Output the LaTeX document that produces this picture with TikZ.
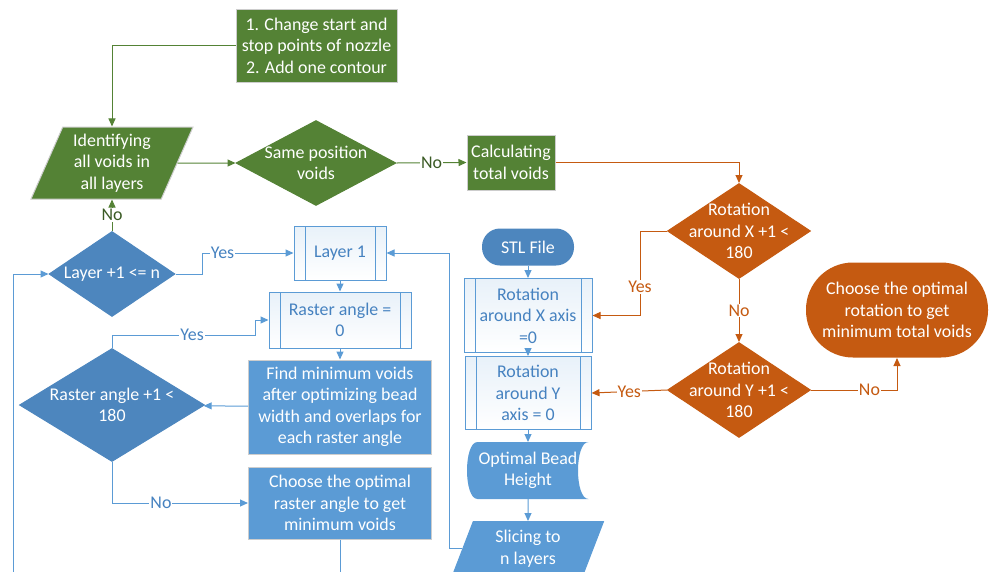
\documentclass[tikz,border=0pt]{standalone}
\usepackage{fontspec}
\setmainfont{Carlito}
\usetikzlibrary{shapes.geometric,positioning,arrows.meta,backgrounds}
\tikzset{>={Triangle[length=8pt,width=7pt]}}

\definecolor{vgreen}{RGB}{84,130,53}
\definecolor{vorange}{RGB}{197,90,17}
\definecolor{vblue}{RGB}{91,155,213}
\definecolor{vdark}{RGB}{77,134,190}
\definecolor{vtext}{RGB}{70,130,192}
\definecolor{vedge}{RGB}{205,205,205}

\tikzset{
  every node/.append style={font=\fontsize{17.9}{21.5}\selectfont, align=center},
  proc/.style={rectangle, draw=vedge, text=white, inner sep=2pt},
  data/.style={trapezium, trapezium left angle=63, trapezium right angle=117,
    trapezium stretches body, draw=vedge, text=white, inner sep=2pt},
  decide/.style={diamond, draw=#1, fill=#1, inner sep=0pt},
  stadium/.style={rectangle, text=white},
  sub/.style={rectangle, draw=vblue, text=vtext, shading=axis, shading angle=-60,
    top color=vblue!14, bottom color=white,
    path picture={\draw[vblue]
      ([xshift=11pt]path picture bounding box.north west) -- ([xshift=11pt]path picture bounding box.south west)
      ([xshift=-11pt]path picture bounding box.north east) -- ([xshift=-11pt]path picture bounding box.south east);}},
  link/.style={draw=#1, ->},
  lbl/.style={fill=white, inner sep=1pt, text=#1}
}

\begin{document}
\begin{tikzpicture}[x=1pt, y=-1pt, line width=1pt]
  \useasboundingbox (0,0) rectangle (990,571);
  \clip (0,0) rectangle (990,571);

  % voids part
  \node[proc, fill=vgreen, minimum width=161pt, minimum height=73pt] (change) at (316.5,45.5) {1. Change start and\\stop points of nozzle\\2. Add one contour};
  \node[data, fill=vgreen, minimum width=162pt, minimum height=72pt] (ident) at (112,163) {Identifying\\all voids in\\all layers};
  \node[decide=vgreen, minimum width=160pt, minimum height=85pt, label={[white]center:Same position\\voids}] (same) at (316,163) {};
  \node[proc, fill=vgreen, minimum width=88pt, minimum height=55pt] (calc) at (511,162.5) {Calculating\\total voids};

  % rotation part
  \node[decide=vorange, minimum width=143pt, minimum height=95pt, label={[white]center:Rotation\\around X +1 <\\180}] (rotx) at (739,231) {};
  \node[decide=vorange, minimum width=143pt, minimum height=95pt, label={[white]center:Rotation\\around Y +1 <\\180}, below=63pt of rotx] (roty) {};
  \node[stadium, fill=vorange, minimum width=182pt, minimum height=95pt, rounded corners=47pt] (optrot) at (897,310) {Choose the optimal\\rotation to get\\minimum total voids};

  % input column
  \node[stadium, fill=vdark, minimum width=92pt, minimum height=37pt, rounded corners=18pt] (stl) at (528,247) {STL File};
  \node[sub, minimum width=128pt, minimum height=74pt, below=12pt of stl] (rotxax) {Rotation\\around X axis\\=0};
  \node[sub, minimum width=126pt, minimum height=73pt, below=3pt of rotxax] (rotyax) {Rotation\\around Y\\axis = 0};
  \node[minimum width=120pt, minimum height=56pt, text=white, below=12pt of rotyax] (bead) {Optimal Bead\\Height};
  \begin{scope}[on background layer]
    \fill[vblue] ([xshift=10pt]bead.north west) .. controls +(-14,0) and +(-14,0) .. ([xshift=10pt]bead.south west)
      -- (bead.south east) .. controls +(-14,0) and +(-14,0) .. (bead.north east) -- cycle;
  \end{scope}
  \node[data, fill=vblue, draw=vblue, minimum width=151pt, minimum height=54pt, below=22pt of bead] (slice) {Slicing to\\n layers};

  % layer part
  \node[sub, minimum width=92pt, minimum height=54pt] (layer1) at (340,253) {Layer 1};
  \node[sub, minimum width=142pt, minimum height=56pt, below=11pt of layer1] (raster) {Raster angle =\\0};
  \node[proc, fill=vblue, minimum width=183pt, minimum height=94pt, below=11pt of raster] (findmin) {Find minimum voids\\after optimizing bead\\width and overlaps for\\each raster angle};
  \node[proc, fill=vblue, minimum width=183pt, minimum height=72pt, below=12pt of findmin] (optang) {Choose the optimal\\raster angle to get\\minimum voids};
  \node[decide=vdark, minimum width=126pt, minimum height=85pt, label={[white]center:Layer +1 <= n}] (ldia) at (112,274) {};
  \node[decide=vdark, minimum width=185pt, minimum height=113pt, label={[white]center:Raster angle +1 <\\180}] (rdia) at (112,405) {};

  % green links
  \draw[link=vgreen] (change.west) -| (ident.center |- ident.north);
  \draw[link=vgreen] (ident.east) -- (same.west);
  \draw[link=vgreen] (same.east) -- node[lbl=vgreen!70!black] {No} (calc.west);
  \draw[link=vgreen] (ldia.north) -- node[lbl=vgreen!70!black] {No} (ldia.north |- ident.south);

  % orange links
  \draw[link=vorange] (calc.east) -| (rotx.north);
  \draw[link=vorange] (rotx.west) -- ++(-27,0) |- node[lbl=vorange, pos=0.33] {Yes} (rotxax.east);
  \draw[link=vorange] (rotx.south) -- node[lbl=vorange] {No} (roty.north);
  \draw[link=vorange] (roty.west) -- node[lbl=vorange] {Yes} (rotyax.east);
  \draw[link=vorange] (roty.east) -| node[lbl=vorange, pos=0.34] {No} (optrot.south);

  % blue links
  \draw[link=vblue] (stl) -- (rotxax);
  \draw[link=vblue] (rotxax) -- (rotyax);
  \draw[link=vblue] (rotyax) -- (bead);
  \draw[link=vblue] (bead) -- (slice);
  \draw[link=vblue] (slice.west) -- ++(-13,0) |- (layer1.east);
  \draw[link=vblue] (layer1) -- (raster);
  \draw[link=vblue] (raster) -- (findmin);
  \draw[link=vblue] (findmin) -- (rdia);
  \draw[link=vblue] (rdia.north) |- node[lbl=vtext, pos=0.78] {Yes} (255,335) |- (raster.west);
  \draw[link=vblue] (rdia.south) |- node[lbl=vtext, pos=0.68] {No} (optang.west);
  \draw[link=vblue] (optang.south) |- (13,600) |- (ldia.west);
  \draw[link=vblue] (ldia.east) -- ++(27,0) |- node[lbl=vtext, pos=0.61] {Yes} (layer1.west);
\end{tikzpicture}
\end{document}
